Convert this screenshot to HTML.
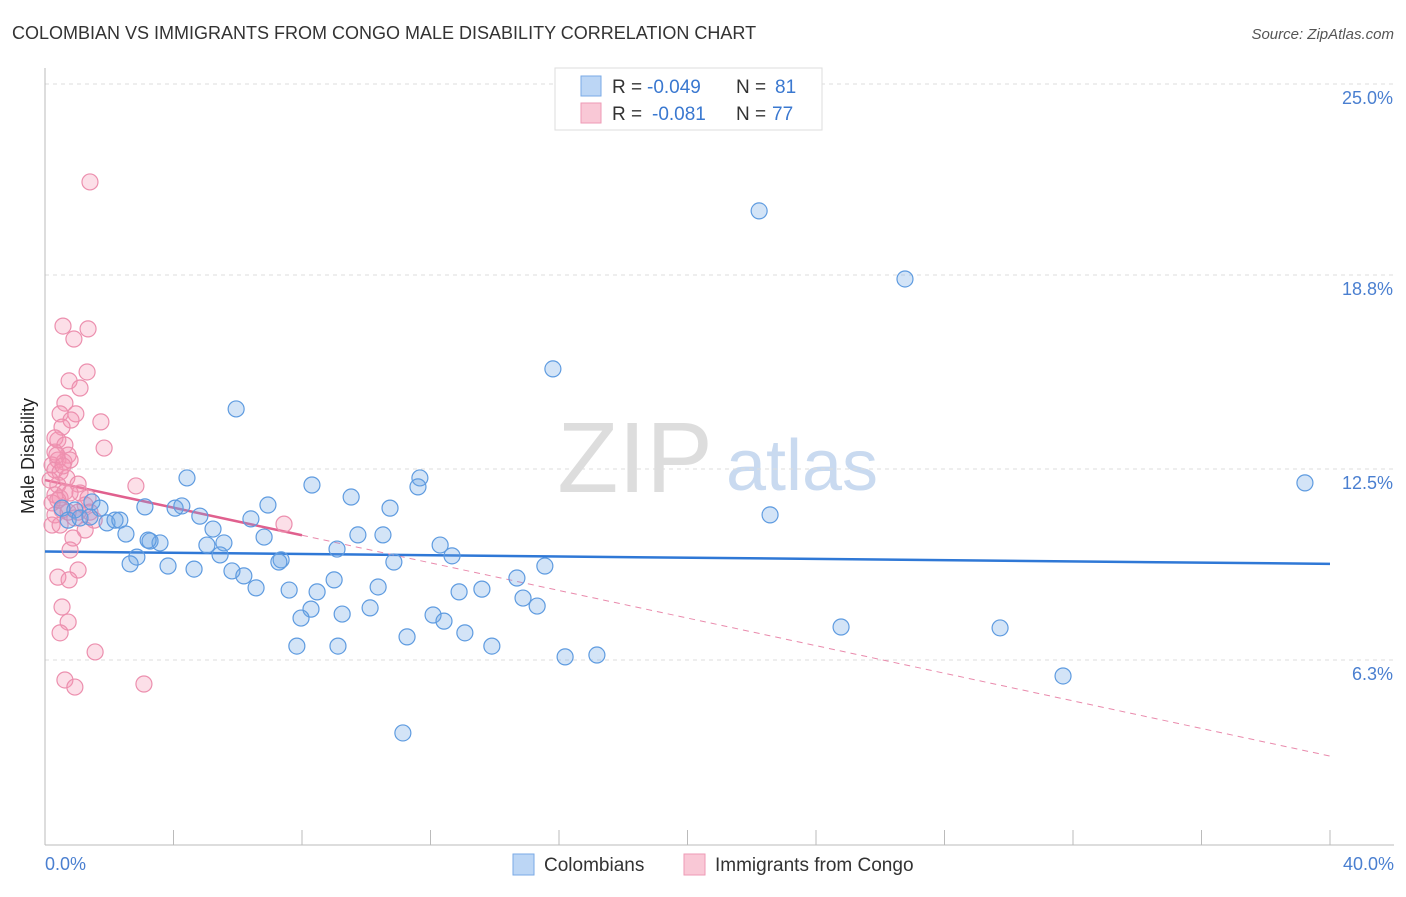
<!DOCTYPE html>
<html><head><meta charset="utf-8"><style>
body{margin:0;background:#fff;font-family:"Liberation Sans",sans-serif;}
svg text{font-family:"Liberation Sans",sans-serif;}
</style></head><body>
<svg id="chart" width="1406" height="892" xmlns="http://www.w3.org/2000/svg">
<text x="12" y="39" font-size="18" fill="#333">COLOMBIAN VS IMMIGRANTS FROM CONGO MALE DISABILITY CORRELATION CHART</text>
<text x="1394" y="39" font-size="15" fill="#555" font-style="italic" text-anchor="end">Source: ZipAtlas.com</text>
<text x="635" y="492" font-size="100" fill="#ddd" font-family="Liberation Serif" text-anchor="middle">ZIP</text>
<text x="802" y="490" font-size="72" fill="#c9daf0" text-anchor="middle">atlas</text>
<g id="grid"></g>
<g id="axes"></g>
<g id="lines"></g>
<g id="pts"></g>
<text transform="translate(34,456) rotate(-90)" font-size="18" fill="#222" text-anchor="middle">Male Disability</text>
<text x="45" y="870" font-size="18" fill="#4a7fd0">0.0%</text>
<text x="1394" y="870" font-size="18" fill="#4a7fd0" text-anchor="end">40.0%</text>
<g>
<rect x="555" y="68" width="267" height="62" fill="#fff" stroke="#ddd"/>
<rect x="581" y="76" width="20" height="20" fill="#bcd6f5" stroke="#7aaae6"/>
<rect x="581" y="103" width="20" height="20" fill="#f9c8d6" stroke="#ee9ab5"/>
<text x="612" y="93" font-size="19" fill="#333">R =</text>
<text x="647" y="93" font-size="19" fill="#3a78d0">-0.049</text>
<text x="736" y="93" font-size="19" fill="#333">N =</text>
<text x="775" y="93" font-size="19" fill="#3a78d0">81</text>
<text x="612" y="120" font-size="19" fill="#333">R =</text>
<text x="652" y="120" font-size="19" fill="#3a78d0">-0.081</text>
<text x="736" y="120" font-size="19" fill="#333">N =</text>
<text x="772" y="120" font-size="19" fill="#3a78d0">77</text>
</g>
<g>
<rect x="513" y="854" width="21" height="21" fill="#bcd6f5" stroke="#7aaae6"/>
<text x="544" y="871" font-size="19" fill="#333">Colombians</text>
<rect x="684" y="854" width="21" height="21" fill="#f9c8d6" stroke="#ee9ab5"/>
<text x="715" y="871" font-size="19" fill="#333">Immigrants from Congo</text>
</g>
</svg>
<script>
const yTicks=[25.0,18.8,12.5,6.3];
const yTickLabels=["25.0%","18.8%","12.5%","6.3%"];
const blueX=[22.23,26.77,15.81,5.95,39.22,4.42,8.31,9.53,11.67,11.61,6.94,10.74,22.57,3.11,4.05,4.26,4.82,1.46,1.71,0.93,0.53,0.72,1.09,1.40,1.93,2.18,2.33,6.41,5.23,2.52,6.82,9.74,10.52,3.27,3.58,3.21,5.04,5.57,9.09,12.30,12.67,5.45,2.86,2.65,3.83,4.64,5.82,6.19,7.35,7.28,10.86,15.56,9.00,10.37,6.57,7.60,8.47,14.69,12.89,13.60,14.88,15.32,8.28,7.97,9.25,10.12,12.08,12.42,13.07,11.27,7.84,9.12,13.91,16.19,17.18,24.78,29.73,31.69,11.14];
const blueY=[20.88,18.67,15.75,14.45,12.05,12.21,11.98,11.59,12.21,11.92,11.33,11.23,11.01,11.27,11.23,11.30,10.97,11.43,11.23,11.17,11.23,10.84,10.91,10.94,10.75,10.84,10.84,10.88,10.55,10.39,10.29,10.36,10.36,10.16,10.10,10.19,10.03,10.10,9.90,10.03,9.68,9.71,9.64,9.42,9.35,9.25,9.19,9.03,9.55,9.48,9.48,9.35,8.90,8.67,8.64,8.57,8.51,8.96,8.51,8.60,8.31,8.05,7.95,7.66,7.79,7.99,7.76,7.56,7.18,7.05,6.75,6.75,6.75,6.40,6.46,7.37,7.34,5.78,3.93];
const pinkX=[1.40,0.56,1.34,0.90,1.31,0.75,1.09,0.62,0.47,0.96,0.81,1.74,0.53,0.40,1.84,0.31,0.62,0.72,0.31,0.40,0.59,0.78,0.22,0.31,0.47,0.68,1.03,2.83,0.40,0.62,0.31,1.09,0.47,1.34,0.22,1.25,0.53,1.40,0.31,0.72,0.93,0.22,1.53,1.25,0.47,7.44,0.87,0.78,1.03,0.40,0.75,0.53,0.72,0.47,1.56,0.62,0.93,3.08,0.16,0.37,0.56,0.78,1.03,0.40];
const pinkY=[21.82,17.14,17.05,16.72,15.65,15.36,15.13,14.64,14.29,14.29,14.09,14.03,13.86,13.44,13.18,13.51,13.28,12.95,13.05,12.79,12.73,12.79,12.63,12.47,12.40,12.21,12.01,11.95,11.98,11.75,11.66,11.72,11.56,11.56,11.40,11.33,11.17,11.10,11.01,11.10,10.91,10.68,10.84,10.52,10.68,10.71,10.26,9.87,9.22,8.99,8.90,8.02,7.53,7.18,6.56,5.65,5.42,5.52,12.14,12.95,12.60,11.72,11.10,11.49];
const blueTrend=[9.82,9.42];
const pinkTrend=[12.14,3.18];
const NS="http://www.w3.org/2000/svg";
const xs=v=>45+v*32.125;
const ys=v=>84+(25-v)*30.8;
function mk(tag,attrs,parent){const e=document.createElementNS(NS,tag);for(const k in attrs)e.setAttribute(k,attrs[k]);parent.appendChild(e);return e;}
const grid=document.getElementById('grid'),axes=document.getElementById('axes'),lines=document.getElementById('lines'),pts=document.getElementById('pts');
yTicks.forEach((t,i)=>{
 const l=mk('line',{x1:45,x2:1394,y1:ys(t),y2:ys(t),stroke:'#ddd','stroke-dasharray':'4,4'},grid);
 
 
 const tx=mk('text',{x:1393,y:ys(t)+20,'font-size':18,fill:'#4a7fd0','text-anchor':'end'},grid);
 tx.textContent=yTickLabels[i];
 
 
});
const ya=mk('line',{x1:45,x2:45,y1:68,y2:845,stroke:'#bbb'},axes);


const xa=mk('line',{x1:45,x2:1394,y1:845,y2:845,stroke:'#bbb'},axes);


for(let i=0;i<=10;i++){
 const t=mk('line',{x1:xs(i*4),x2:xs(i*4),y1:830,y2:845,stroke:'#bbb'},axes);
 
 
}
function dot(x,y,fill,stroke,name){
 const c=mk('circle',{cx:xs(x),cy:ys(y),r:8,fill:fill,stroke:stroke,'stroke-width':1.2},pts);
 
 
}
pinkX.forEach((x,i)=>dot(x,pinkY[i],'rgba(244,150,180,0.3)','#ec8fae','congo-point'));
blueX.forEach((x,i)=>dot(x,blueY[i],'rgba(110,165,230,0.3)','#5e9be0','colombian-point'));
const bl=mk('line',{x1:xs(0),y1:ys(blueTrend[0]),x2:xs(40),y2:ys(blueTrend[1]),stroke:'#2f78d6','stroke-width':2.5},lines);


const pAt=x=>pinkTrend[0]+(pinkTrend[1]-pinkTrend[0])*x/40;
const ps=mk('line',{x1:xs(0),y1:ys(pAt(0)),x2:xs(8),y2:ys(pAt(8)),stroke:'#e0608e','stroke-width':2.5},lines);


const pd=mk('line',{x1:xs(8),y1:ys(pAt(8)),x2:xs(40),y2:ys(pAt(40)),stroke:'#e98aac','stroke-width':1,'stroke-dasharray':'6,5'},lines);


</script>
</body></html>
